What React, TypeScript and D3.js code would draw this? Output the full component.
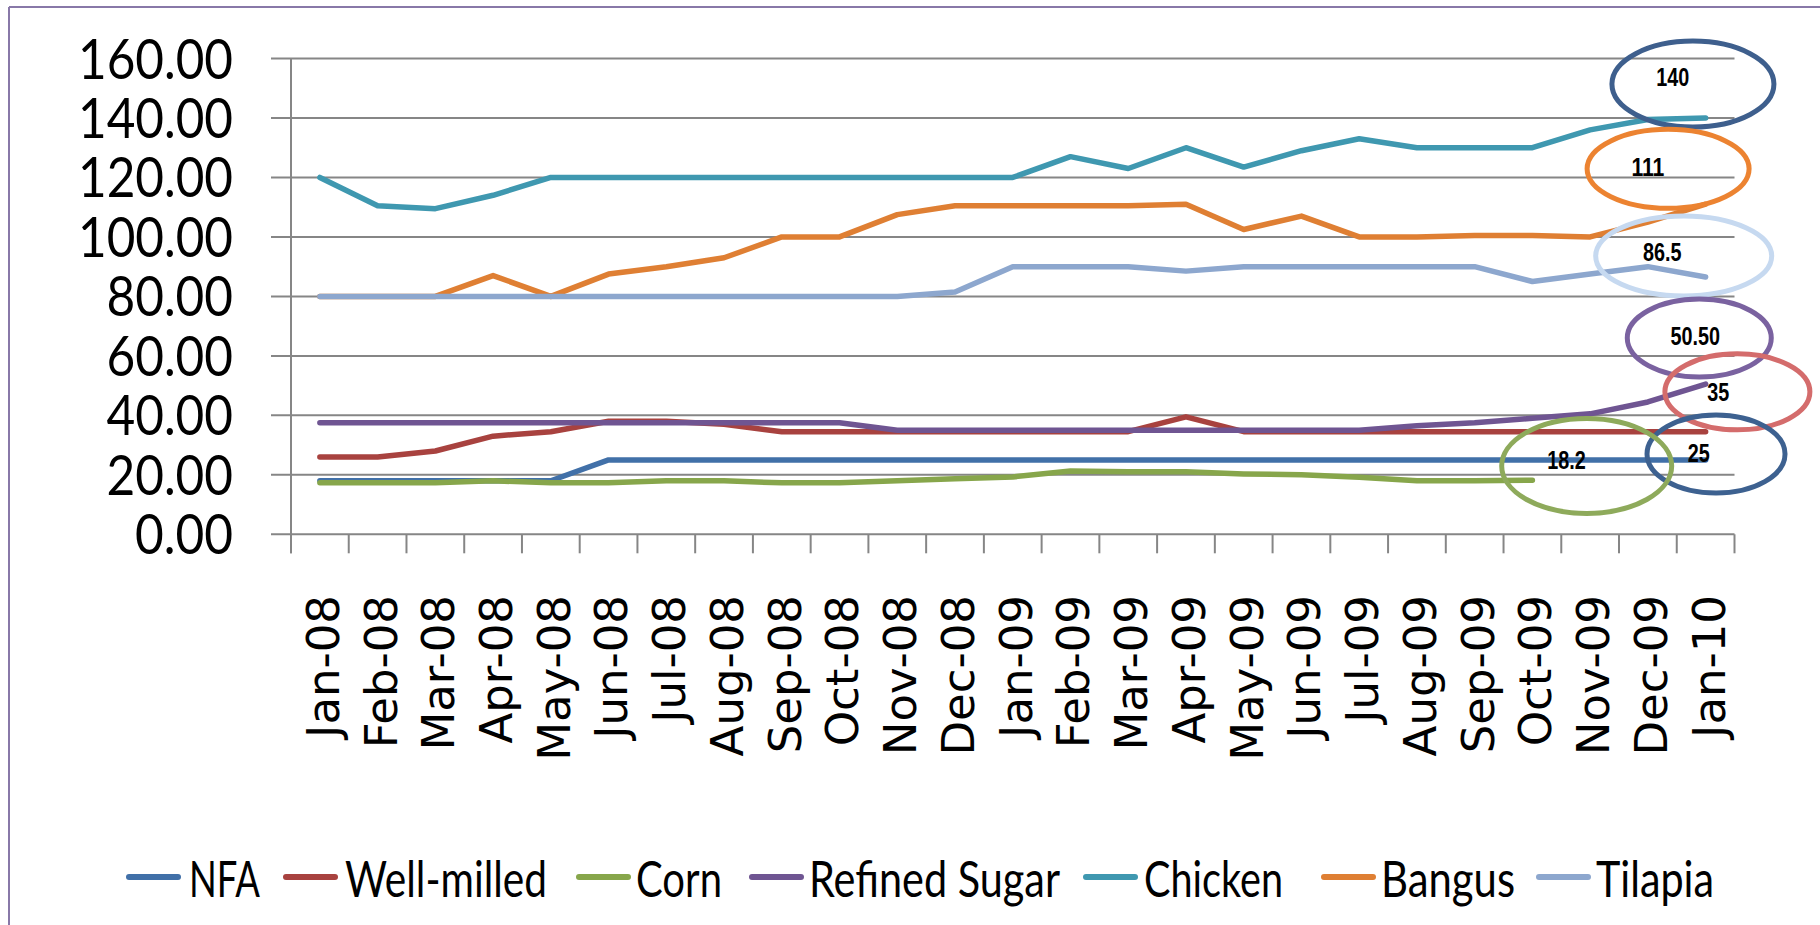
import React from "react";
import * as d3 from "d3";

const months = [
  "Jan-08", "Feb-08", "Mar-08", "Apr-08", "May-08", "Jun-08", "Jul-08", "Aug-08", "Sep-08",
  "Oct-08", "Nov-08", "Dec-08", "Jan-09", "Feb-09", "Mar-09", "Apr-09", "May-09", "Jun-09",
  "Jul-09", "Aug-09", "Sep-09", "Oct-09", "Nov-09", "Dec-09", "Jan-10",
];

const nfa = [18, 18, 18, 18, 18, 25, 25, 25, 25, 25, 25, 25, 25, 25, 25, 25, 25, 25, 25, 25, 25, 25, 25, 25, 25];
const wellMilled = [26, 26, 28, 33, 34.5, 38, 38, 37, 34.5, 34.5, 34.5, 34.5, 34.5, 34.5, 34.5, 39.5, 34.5, 34.5, 34.5, 34.5, 34.5, 34.5, 34.5, 34.5, 34.5];
const corn = [17.3, 17.3, 17.3, 18, 17.3, 17.3, 18, 18, 17.3, 17.3, 18, 18.7, 19.3, 21.3, 21, 21, 20.3, 20, 19.2, 18, 18, 18.2, null, null, null];
const refinedSugar = [37.5, 37.5, 37.5, 37.5, 37.5, 37.5, 37.5, 37.5, 37.5, 37.5, 35, 35, 35, 35, 35, 35, 35, 35, 35, 36.5, 37.5, 39, 40.5, 44.5, 50.5];
const chicken = [120, 110.5, 109.5, 114, 120, 120, 120, 120, 120, 120, 120, 120, 120, 127, 123, 130, 123.5, 129, 133, 130, 130, 130, 136, 139.5, 140];
const bangus = [80, 80, 80, 87, 80, 87.5, 90, 93, 100, 100, 107.5, 110.5, 110.5, 110.5, 110.5, 111, 102.5, 107, 100, 100, 100.5, 100.5, 100, 105, 111];
const tilapia = [80, 80, 80, 80, 80, 80, 80, 80, 80, 80, 80, 81.5, 90, 90, 90, 88.5, 90, 90, 90, 90, 90, 85, 87.5, 90, 86.5];

const seriesNames = ["NFA", "Well-milled", "Corn", "Refined Sugar", "Chicken", "Bangus", "Tilapia"];
const seriesValues = [nfa, wellMilled, corn, refinedSugar, chicken, bangus, tilapia];
const seriesColors = ["#4170A8", "#A8423F", "#87A64B", "#6F5592", "#3F98B0", "#DF7F33", "#8DA7CE"];

const yTickValues = [0, 20, 40, 60, 80, 100, 120, 140, 160];

// callout annotations: text, anchor in data space (category index, value)
const calloutTexts = ["140", "111", "86.5", "50.50", "35", "25", "18.2"];
const calloutIdx = [23.78, 23.35, 23.62, 23.89, 24.55, 24.18, 21.94];
const calloutVal = [151.4, 122.9, 93.6, 66.0, 47.9, 27.0, 23.0];
const calloutTextIdx = [23.43, 23.0, 23.25, 23.82, 24.22, 23.88, 21.59];
const calloutTextVal = [153.9, 123.6, 95.0, 66.8, 47.9, 27.4, 25.0];
const calloutRx = [81, 81, 88, 72, 72.5, 69, 85];
const calloutRy = [43, 39.5, 40, 39, 38, 39, 47.5];
const calloutColors = ["#3E5F8D", "#EC8331", "#C6D9F0", "#7A62A0", "#D46C6C", "#3D6190", "#8EAA5B"];

const legendLineX = [126, 283, 576, 749, 1083, 1321, 1536];
const legendTextX = [189, 345, 636, 809, 1144, 1381, 1596];
const legendTextW = [71, 202, 86, 251, 139, 134, 118];

export default function App() {
  const left = 291;
  const right = 1734.5;
  const top = 58.5;
  const bottom = 534.3;

  const x = d3.scaleBand<string>().domain(months).range([left, right]).padding(0);
  const xc = (m: string) => (x(m) as number) + x.bandwidth() / 2;
  const xi = d3
    .scaleLinear()
    .domain([0, months.length - 1])
    .range([xc(months[0]), xc(months[months.length - 1])]);
  const y = d3.scaleLinear().domain([0, 160]).range([bottom, top]);

  const line = d3
    .line<number | null>()
    .defined((d) => d != null)
    .x((_d, i) => xc(months[i]))
    .y((d) => y(d as number));

  const fmt = d3.format(".2f");
  const boundaries = months.map((m) => x(m) as number).concat([right]);

  const grid = "#868686";

  return (
    <svg
      width={1820}
      height={925}
      style={{ position: "absolute", left: 0, top: 0, background: "#ffffff" }}
    >
      <rect x={0} y={0} width={1820} height={925} fill="#ffffff" />
      {/* outer frame */}
      <line x1={9} y1={7} x2={1820} y2={7} stroke="#8878A8" strokeWidth={2} />
      <line x1={9} y1={7} x2={9} y2={925} stroke="#8878A8" strokeWidth={2} />

      {/* gridlines */}
      {yTickValues.map((v) => (
        <line key={"g" + v} x1={271} x2={right} y1={y(v)} y2={y(v)} stroke={grid} strokeWidth={2} />
      ))}
      {/* y axis */}
      <line x1={left} x2={left} y1={top} y2={bottom + 19} stroke={grid} strokeWidth={2} />
      {/* x ticks */}
      {boundaries.map((b, i) => (
        <line key={"t" + i} x1={b} x2={b} y1={bottom} y2={bottom + 19} stroke={grid} strokeWidth={2} />
      ))}

      {/* y labels */}
      {yTickValues.map((v) => {
        const s = fmt(v);
        const digits = s.replace(".", "").length;
        return (
          <text
            key={"yl" + v}
            x={233}
            y={y(v) + 20}
            textAnchor="end"
            fontFamily="Lato, 'Open Sans', sans-serif"
            fontSize={56}
            textLength={digits * 28.5 + 12.5}
            lengthAdjust="spacingAndGlyphs"
            fill="#000"
          >
            {s}
          </text>
        );
      })}

      {/* x labels */}
      {months.map((m) => (
        <text
          key={"xl" + m}
          transform={`translate(${xc(m)},595) rotate(-90)`}
          textAnchor="end"
          dy="0.42em"
          fontFamily="'DejaVu Sans', sans-serif"
          fontSize={45}
          fill="#000"
        >
          {m}
        </text>
      ))}

      {/* series */}
      {seriesValues.map((vals, k) => (
        <path
          key={"s" + k}
          d={line(vals as (number | null)[]) || ""}
          fill="none"
          stroke={seriesColors[k]}
          strokeWidth={5.5}
          strokeLinejoin="round"
          strokeLinecap="round"
        />
      ))}

      {/* callouts */}
      {calloutTexts.map((t, k) => (
        <g key={"c" + k}>
          <ellipse
            cx={xi(calloutIdx[k])}
            cy={y(calloutVal[k])}
            rx={calloutRx[k]}
            ry={calloutRy[k]}
            fill="none"
            stroke={calloutColors[k]}
            strokeWidth={5}
          />
          <text
            x={xi(calloutTextIdx[k])}
            y={y(calloutTextVal[k])}
            dy="0.36em"
            textAnchor="middle"
            fontFamily="'Liberation Sans Narrow', 'Liberation Sans', Arial, sans-serif"
            fontWeight="bold"
            fontSize={26}
            textLength={t.replace(".", "").length * 11 + (t.includes(".") ? 5.5 : 0)}
            lengthAdjust="spacingAndGlyphs"
            fill="#000"
          >
            {t}
          </text>
        </g>
      ))}

      {/* legend */}
      {seriesNames.map((n, k) => (
        <g key={"lg" + k}>
          <line
            x1={legendLineX[k] + 3}
            x2={legendLineX[k] + 52}
            y1={877}
            y2={877}
            stroke={seriesColors[k]}
            strokeWidth={6}
            strokeLinecap="round"
          />
          <text
            x={legendTextX[k]}
            y={897}
            fontFamily="Lato, 'Open Sans', sans-serif"
            fontSize={50}
            textLength={legendTextW[k]}
            lengthAdjust="spacingAndGlyphs"
            fill="#000"
          >
            {n}
          </text>
        </g>
      ))}
    </svg>
  );
}
